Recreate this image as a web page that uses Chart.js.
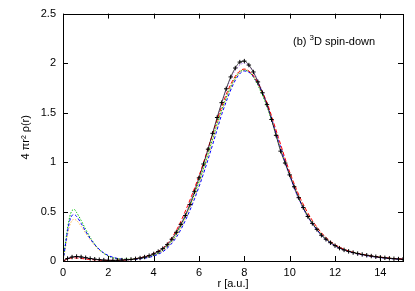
<!DOCTYPE html>
<html>
<head>
<meta charset="utf-8">
<script src="https://cdn.jsdelivr.net/npm/chart.js@4"></script>
<style>
  html, body { margin: 0; padding: 0; background: #fff; }
  #chart { display: block; }
</style>
</head>
<body>
<canvas id="chart" width="415" height="291"></canvas>
<script>
// ======================= Data =======================
// radial grid for the curves
const rLine = [0, 0.1, 0.2, 0.3, 0.4, 0.5, 0.6, 0.8, 1.0, 1.25, 1.5, 1.75, 2.0, 2.5, 3.0, 3.5, 4.0, 4.5, 5.0, 5.5, 6.0,
    6.5, 6.75, 7.0, 7.25, 7.5, 7.75, 8.0, 8.25, 8.5, 8.75, 9.0, 9.5, 10.0, 10.5, 11.0, 11.5, 12.0, 12.5, 13.0, 13.5, 14.0, 14.5, 15.0];

const redLine = [0, 0.01, 0.02, 0.027, 0.03, 0.031, 0.03, 0.026, 0.02, 0.014, 0.01, 0.007, 0.006, 0.007, 0.016, 0.037, 0.075, 0.15, 0.31, 0.56, 0.86,
    1.21, 1.39, 1.56, 1.71, 1.83, 1.91, 1.94, 1.91, 1.84, 1.73, 1.60, 1.25, 0.90, 0.62, 0.41, 0.26, 0.165, 0.11, 0.078, 0.055, 0.039, 0.027, 0.019];

const greenLine = [0, 0.17, 0.33, 0.45, 0.51, 0.52, 0.49, 0.41, 0.32, 0.22, 0.14, 0.085, 0.05, 0.02, 0.018, 0.03, 0.06, 0.13, 0.27, 0.51, 0.80,
    1.16, 1.35, 1.53, 1.68, 1.81, 1.90, 1.93, 1.90, 1.82, 1.70, 1.56, 1.20, 0.86, 0.58, 0.38, 0.24, 0.155, 0.105, 0.075, 0.052, 0.037, 0.026, 0.018];

const blueLine = [0, 0.15, 0.30, 0.41, 0.46, 0.47, 0.45, 0.38, 0.30, 0.21, 0.14, 0.09, 0.055, 0.022, 0.015, 0.025, 0.05, 0.11, 0.24, 0.46, 0.75,
    1.10, 1.29, 1.48, 1.64, 1.78, 1.88, 1.92, 1.90, 1.83, 1.72, 1.58, 1.22, 0.87, 0.58, 0.38, 0.24, 0.155, 0.105, 0.073, 0.05, 0.035, 0.024, 0.017];

const orangeLine = [0, 0.12, 0.26, 0.36, 0.41, 0.42, 0.41, 0.35, 0.28, 0.20, 0.13, 0.085, 0.05, 0.02, 0.016, 0.028, 0.055, 0.12, 0.26, 0.49, 0.78,
    1.14, 1.33, 1.51, 1.67, 1.80, 1.89, 1.93, 1.91, 1.83, 1.71, 1.57, 1.21, 0.87, 0.59, 0.39, 0.25, 0.16, 0.108, 0.075, 0.052, 0.037, 0.026, 0.018];

const violetLine = [0, 0.012, 0.025, 0.035, 0.04, 0.042, 0.041, 0.036, 0.029, 0.02, 0.014, 0.009, 0.006, 0.006, 0.014, 0.034, 0.068, 0.14, 0.29, 0.53, 0.84,
    1.21, 1.40, 1.59, 1.76, 1.89, 1.97, 2.00, 1.96, 1.87, 1.74, 1.58, 1.20, 0.85, 0.57, 0.37, 0.23, 0.15, 0.10, 0.07, 0.048, 0.034, 0.024, 0.016];

// black crosses (reference points)
const rPoints = [0, 0.2, 0.4, 0.6, 0.8, 1.0, 1.2, 1.4, 1.6, 1.8, 2.0, 2.2, 2.4, 2.6, 2.8, 3.0, 3.2, 3.4, 3.6, 3.8,
    4.0, 4.2, 4.4, 4.6, 4.8, 5.0, 5.2, 5.4, 5.6, 5.8, 6.0, 6.2, 6.4, 6.6, 6.8, 7.0, 7.2, 7.4, 7.6, 7.8,
    8.0, 8.2, 8.4, 8.6, 8.8, 9.0, 9.2, 9.4, 9.6, 9.8, 10.0, 10.2, 10.4, 10.6, 10.8, 11.0, 11.2, 11.4, 11.6, 11.8,
    12.0, 12.2, 12.4, 12.6, 12.8, 13.0, 13.2, 13.4, 13.6, 13.8, 14.0, 14.2, 14.4, 14.6, 14.8, 15.0];

const blackPoints = [0, 0.025, 0.04, 0.045, 0.041, 0.033, 0.025, 0.018, 0.013, 0.009, 0.007, 0.006, 0.007, 0.009, 0.012, 0.016, 0.022, 0.03, 0.04, 0.054,
    0.072, 0.095, 0.125, 0.165, 0.22, 0.29, 0.37, 0.46, 0.57, 0.70, 0.84, 0.98, 1.13, 1.29, 1.45, 1.60, 1.74, 1.86, 1.95, 2.01,
    2.02, 1.98, 1.91, 1.81, 1.70, 1.58, 1.43, 1.27, 1.11, 0.99, 0.87, 0.75, 0.64, 0.54, 0.45, 0.38, 0.32, 0.26, 0.22, 0.185,
    0.155, 0.13, 0.112, 0.097, 0.085, 0.075, 0.066, 0.058, 0.05, 0.043, 0.037, 0.032, 0.027, 0.023, 0.02, 0.017];

const xTicks = [0, 2, 4, 6, 8, 10, 12, 14];
const yTicks = [0, 0.5, 1, 1.5, 2, 2.5];

// ======================= Helpers =======================
const FONT = "'Liberation Sans', Arial, Helvetica, sans-serif";

function toXY(xs, ys) {
    return xs.map((x, i) => ({ x: x, y: ys[i] }));
}

function lineSet(label, values, color, dash) {
    return {
        label: label,
        data: toXY(rLine, values),
        borderColor: color,
        borderWidth: 1,
        borderDash: dash,
        pointRadius: 0,
        fill: false,
        cubicInterpolationMode: "monotone"
    };
}

// inward ticks on all four sides + frame + annotation, gnuplot style
const framePlugin = {
    id: "frame",
    afterDatasetsDraw(chart) {
        const { ctx, chartArea: { left, right, top, bottom }, scales: { x, y } } = chart;
        ctx.save();
        ctx.strokeStyle = "#000";
        ctx.lineWidth = 1;
        ctx.beginPath();
        xTicks.forEach(v => {
            const px = Math.round(x.getPixelForValue(v)) + 0.5;
            ctx.moveTo(px, bottom); ctx.lineTo(px, bottom - 5);
            ctx.moveTo(px, top); ctx.lineTo(px, top + 5);
        });
        yTicks.forEach(v => {
            const py = Math.round(y.getPixelForValue(v)) + 0.5;
            ctx.moveTo(left, py); ctx.lineTo(left + 5, py);
            ctx.moveTo(right, py); ctx.lineTo(right - 5, py);
        });
        ctx.stroke();
        ctx.strokeRect(Math.round(left) + 0.5, Math.round(top) + 0.5,
            Math.round(right - left), Math.round(bottom - top));

        // "(b) 3D spin-down" with superscript
        ctx.fillStyle = "#000";
        ctx.textBaseline = "alphabetic";
        ctx.font = `11px ${FONT}`;
        let tx = 293;
        const ty = 45;
        ctx.fillText("(b) ", tx, ty);
        tx += ctx.measureText("(b) ").width;
        ctx.font = `8px ${FONT}`;
        ctx.fillText("3", tx, ty - 5);
        tx += ctx.measureText("3").width;
        ctx.font = `11px ${FONT}`;
        ctx.fillText("D spin-down", tx, ty);
        ctx.restore();
    }
};

// ======================= Chart =======================
new Chart(document.getElementById("chart"), {
    type: "line",
    data: {
        datasets: [
            {
                label: "reference",
                data: toXY(rPoints, blackPoints),
                borderColor: "#000",
                backgroundColor: "#000",
                borderWidth: 0.7,
                pointStyle: "cross",
                pointRadius: 2.2,
                pointBorderWidth: 1,
                fill: false,
                cubicInterpolationMode: "monotone"
            },
            lineSet("red", redLine, "#ff0000", [4, 2]),
            lineSet("violet", violetLine, "#c080ff", [1.5, 1.5]),
            lineSet("blue", blueLine, "#0000ff", [3, 2]),
            lineSet("green", greenLine, "#00c000", [1.5, 1.5]),
            lineSet("orange", orangeLine, "#ffc060", [1.5, 1.5])
        ]
    },
    options: {
        responsive: false,
        animation: false,
        events: [],
        layout: { padding: { left: 0, right: 12, top: 13, bottom: 0 } },
        plugins: {
            legend: { display: false },
            tooltip: { enabled: false }
        },
        scales: {
            x: {
                type: "linear",
                min: 0,
                max: 15,
                afterBuildTicks: scale => { scale.ticks = xTicks.map(v => ({ value: v })); },
                afterFit: scale => { scale.height = 30; },
                grid: { display: false, drawTicks: false },
                border: { display: false },
                ticks: {
                    color: "#000",
                    padding: 5,
                    maxRotation: 0,
                    callback: v => String(v),
                    font: { family: FONT, size: 11 }
                },
                title: {
                    display: true,
                    text: "r [a.u.]",
                    color: "#000",
                    padding: { top: 0, bottom: 0 },
                    font: { family: FONT, size: 11 }
                }
            },
            y: {
                type: "linear",
                min: 0,
                max: 2.5,
                afterBuildTicks: scale => { scale.ticks = yTicks.map(v => ({ value: v })); },
                afterFit: scale => { scale.width = 63; },
                grid: { display: false, drawTicks: false },
                border: { display: false },
                ticks: {
                    color: "#000",
                    padding: 7,
                    callback: v => String(v),
                    font: { family: FONT, size: 11 }
                },
                title: {
                    display: true,
                    text: "4 \u03c0r\u00b2 \u03c1(r)",
                    color: "#000",
                    padding: { top: 19, bottom: 0 },
                    font: { family: FONT, size: 11 }
                }
            }
        }
    },
    plugins: [framePlugin]
});
</script>
</body>
</html>
